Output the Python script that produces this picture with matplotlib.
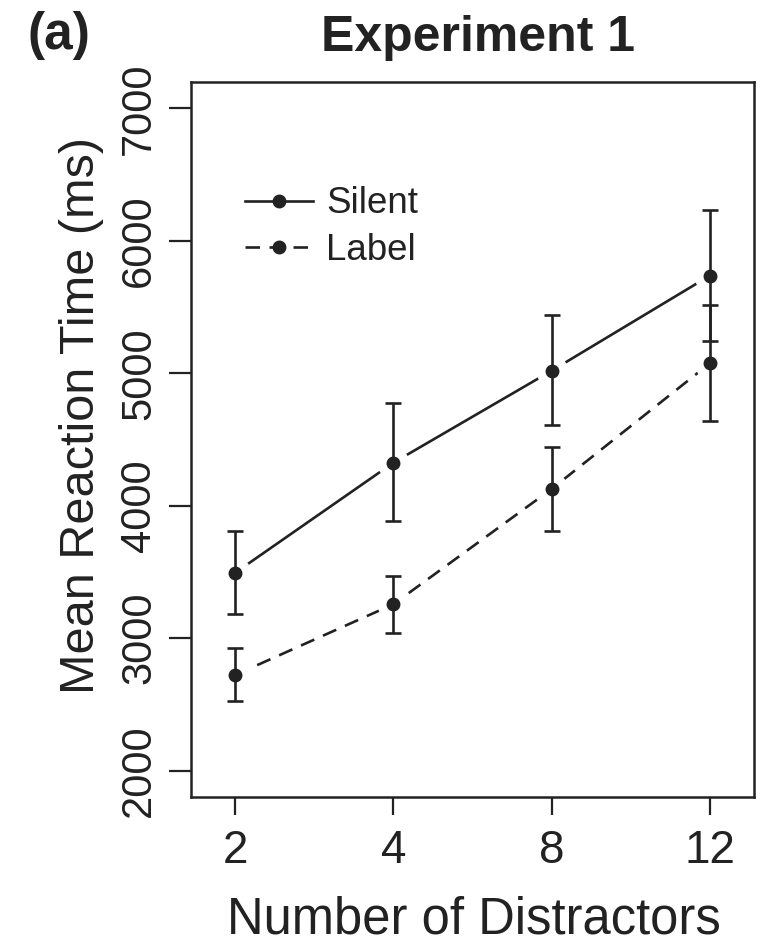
import matplotlib
matplotlib.use("Agg")
import matplotlib.pyplot as plt
from matplotlib.lines import Line2D

plt.rcParams['font.family'] = ['Liberation Sans', 'DejaVu Sans']

categories = ["2", "4", "8", "12"]
silent_mean = [3494, 4325, 5019, 5737]
silent_low = [3180, 3885, 4609, 5241]
silent_high = [3809, 4773, 5441, 6233]
label_mean = [2722, 3256, 4126, 5075]
label_low = [2528, 3042, 3809, 4642]
label_high = [2924, 3472, 4441, 5517]
yticks = [2000, 3000, 4000, 5000, 6000, 7000]

ink = "#222222"
W, H = 767, 948
fig = plt.figure(figsize=(W / 100, H / 100), dpi=100)
ax = fig.add_axes([191 / W, 1 - 797 / H, (754 - 191) / W, (797 - 82) / H])

xpos = list(range(1, len(categories) + 1))
DASH = (5.5, 3.6)

def draw(mean, low, high, ls, dashes=None):
    kw = dict(color=ink, lw=1.9, ls=ls, marker='o', ms=22,
              mfc='white', mec='white', zorder=2)
    if dashes:
        kw['dashes'] = dashes
    ax.plot(xpos, mean, **kw)
    yerr = [[m - l for m, l in zip(mean, low)], [h - m for m, h in zip(mean, high)]]
    ax.errorbar(xpos, mean, yerr=yerr, fmt='none', ecolor=ink, elinewidth=1.9,
                capsize=6, capthick=1.9, zorder=3)
    ax.plot(xpos, mean, ls='none', marker='o', ms=9, color=ink, zorder=4)

draw(silent_mean, silent_low, silent_high, '-')
draw(label_mean, label_low, label_high, '--', dashes=DASH)

ax.set_xlim(0.72, 4.28)
ax.set_ylim(1800, 7200)
ax.set_xticks(xpos)
ax.set_xticklabels(categories)
ax.set_yticks(yticks)
ax.set_yticklabels([str(v) for v in yticks], rotation=90, va='center')
ax.tick_params(axis='x', labelsize=33, colors=ink, width=1.6, length=13, pad=10)
ax.tick_params(axis='y', labelsize=30, colors=ink, width=1.6, length=16, pad=7)
for s in ax.spines.values():
    s.set_linewidth(1.8)
    s.set_color(ink)

ax.set_xlabel("Number of Distractors", fontsize=36.5, color=ink)
ax.xaxis.label.set_va('baseline')
ax.xaxis.set_label_coords(0.502, (797 - 934) / (797 - 82))
ax.set_ylabel("Mean Reaction Time (ms)", fontsize=35, color=ink)
ax.yaxis.set_label_coords(-0.155, 0.534)

h1 = Line2D([], [], color=ink, lw=1.9, ls='-', marker='o', ms=9)
h2 = Line2D([], [], color=ink, lw=1.9, ls='--', dashes=DASH, marker='o', ms=9)
ax.legend([h1, h2], ["Silent", "Label"], loc='upper left', bbox_to_anchor=(0.05, 0.89),
          frameon=False, fontsize=26.5, handlelength=1.85, handletextpad=0.35,
          labelspacing=0.32, numpoints=1, labelcolor=ink, borderaxespad=0.3)

ax.set_title("Experiment 1", fontsize=36, fontweight='bold', color=ink, pad=22, x=0.51)
fig.text(28 / W, 1 - 36 / H, "(a)", fontsize=37, fontweight='bold', color=ink,
         ha='left', va='center')

fig.savefig("out.png", dpi=100)
